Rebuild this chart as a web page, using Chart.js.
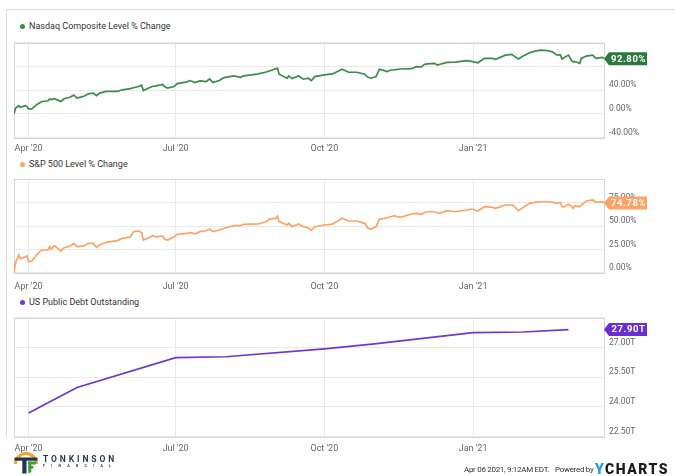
<!DOCTYPE html>
<html><head><meta charset="utf-8">
<script src="https://cdn.jsdelivr.net/npm/chart.js@4.4.1/dist/chart.umd.min.js"></script>
<style>
body{margin:0;width:675px;height:476px;background:#fff;position:relative;overflow:hidden;font-family:Roboto,sans-serif;}
.frame{position:absolute;left:6px;top:9px;width:700px;height:428px;border-top:1px solid #dcdcdc;border-left:1px solid #dcdcdc;}
canvas{position:absolute;left:0;}
.leg{position:absolute;left:29px;font-size:9px;color:#333;white-space:nowrap;line-height:10px;}
.dot{position:absolute;left:20px;width:5px;height:5px;border-radius:50%;}
.foot{position:absolute;top:465px;font-size:8px;line-height:9px;color:#333;white-space:nowrap;letter-spacing:-0.3px;}
.yc{position:absolute;left:595px;top:462px;font-size:14px;line-height:14px;font-weight:900;letter-spacing:1.5px;color:#1b1b1b;white-space:nowrap;}
.yc span{color:#1f9cf0;}
.tk{position:absolute;left:43px;top:454px;font-size:8.5px;font-weight:700;letter-spacing:2.9px;color:#1f3550;white-space:nowrap;}
.fin{position:absolute;left:43px;top:464px;font-size:3.6px;font-weight:700;letter-spacing:6.2px;color:#1f3550;white-space:nowrap;}
</style></head>
<body>
<div class="frame"></div>
<div class="dot" style="top:24px;background:#3b8b4b"></div><div class="leg" style="top:21px">Nasdaq Composite Level % Change</div>
<div class="dot" style="top:162px;background:#ffa264"></div><div class="leg" style="top:159px">S&amp;P 500 Level % Change</div>
<div class="dot" style="top:300px;background:#6d36d5"></div><div class="leg" style="top:297px">US Public Debt Outstanding</div>
<canvas id="c1" width="675" height="160" style="top:0px"></canvas>
<canvas id="c2" width="675" height="145" style="top:150px"></canvas>
<canvas id="c3" width="675" height="180" style="top:290px"></canvas>
<svg style="position:absolute;left:0;top:440px" width="45" height="36">
  <path d="M15.5 24 A10.5 10.5 0 0 1 36.5 24" fill="none" stroke="#f6a524" stroke-width="3"/>
  <rect x="14.5" y="17.5" width="23" height="3.2" fill="#1f3550"/>
  <rect x="22.3" y="19" width="4.2" height="14.5" fill="#1f3550"/>
  <rect x="28.3" y="21.5" width="7.5" height="3" fill="#3b9b3b"/>
  <path d="M28.3 21.5 L31.3 21.5 L31.3 32 L28.3 33.5 Z" fill="#3b9b3b"/>
  <rect x="28.3" y="26" width="5" height="2.6" fill="#3b9b3b"/>
</svg>
<div class="tk">TONKINSON</div>
<div class="fin">FINANCIAL</div>
<div class="foot" style="left:464px">Apr 06 2021, 9:12AM EDT.</div>
<div class="foot" style="left:555px">Powered by</div>
<div class="yc"><span>Y</span>CHARTS</div>
<script>
// ---- data ----
const quarterTicks = ['2020-04-01','2020-07-01','2020-10-01','2021-01-01'];
const quarterLabels = ["Apr '20","Jul '20","Oct '20","Jan '21"];
const xStart = '2020-03-23';
const xEnd = '2021-03-23';

const tradeDates = ['2020-03-23','2020-03-24','2020-03-26','2020-03-27','2020-03-30','2020-03-31','2020-04-01','2020-04-03','2020-04-06','2020-04-09','2020-04-13','2020-04-14','2020-04-15','2020-04-17','2020-04-21','2020-04-23','2020-04-27','2020-04-29','2020-05-01','2020-05-05','2020-05-08','2020-05-11','2020-05-13','2020-05-15','2020-05-19','2020-05-26','2020-05-29','2020-06-03','2020-06-05','2020-06-08','2020-06-10','2020-06-11','2020-06-15','2020-06-17','2020-06-19','2020-06-23','2020-06-24','2020-06-26','2020-06-30','2020-07-02','2020-07-08','2020-07-10','2020-07-13','2020-07-16','2020-07-20','2020-07-22','2020-07-24','2020-07-28','2020-07-31','2020-08-06','2020-08-10','2020-08-12','2020-08-17','2020-08-21','2020-08-26','2020-08-28','2020-09-01','2020-09-02','2020-09-03','2020-09-08','2020-09-09','2020-09-11','2020-09-15','2020-09-18','2020-09-21','2020-09-23','2020-09-25','2020-10-01','2020-10-06','2020-10-12','2020-10-16','2020-10-21','2020-10-26','2020-10-28','2020-10-30','2020-11-02','2020-11-04','2020-11-09','2020-11-11','2020-11-13','2020-11-17','2020-11-24','2020-11-27','2020-11-30','2020-12-02','2020-12-04','2020-12-08','2020-12-10','2020-12-11','2020-12-16','2020-12-21','2020-12-28','2020-12-31','2021-01-04','2021-01-08','2021-01-13','2021-01-15','2021-01-21','2021-01-25','2021-01-26','2021-01-29','2021-02-01','2021-02-05','2021-02-09','2021-02-12','2021-02-16','2021-02-19','2021-02-22','2021-02-24','2021-02-25','2021-02-26','2021-03-01','2021-03-03','2021-03-04','2021-03-05','2021-03-08','2021-03-09','2021-03-12','2021-03-16','2021-03-18','2021-03-22','2021-03-23'];

const nasdaqPct = [0,10,13.8,11,13.8,12.7,8.3,8.3,15.5,20.5,22,25,24,25.5,21,25.5,28.3,31.6,26.6,29.4,33.8,35,30.5,35,37.7,37.7,40.5,42.5,44,46,48.3,39.4,44.4,46.5,47.2,49.4,46,43.3,46,51,53.8,56,52.7,55.5,54.4,58.8,52.7,56,61,63.8,61.6,63.8,65.5,67.2,70.5,72.2,76,76.7,66.7,60,63.8,59.4,63.8,58.3,60,56,62.7,65.5,67.2,75,70,70,66.7,61.6,60,62.7,75,71,73.8,74,75.5,76,79.3,79,83.3,84,85,82.2,83,86.6,87,89.4,88.3,86,93.3,93.3,91.6,98.8,100,98,92.2,97.2,102.7,106,107.2,106.5,104.3,98.8,99.5,92.2,94,98.8,89.4,87.2,88,85,93.3,97.2,98.8,93.3,95,92.8];

const spxPct = [0,11.2,19,14.8,17.2,18,11.9,12.6,19,24.4,24.4,27.9,25.5,29,23.3,26.8,28.7,31.5,27.9,28.7,31.5,31.5,27.3,29.7,32.6,34.4,36.9,38.3,44,44.7,43,35,38,39.7,38.5,39.4,36.1,35,38.6,41.2,42.2,42.9,41.6,44,45,46.8,44,45.8,47.6,50.4,50.4,51.9,52,52.2,54.5,57.5,58.3,60.7,54.7,51.1,52.9,49.3,52.2,49.3,48.2,45.4,49.3,51.1,52,58.3,55.4,55.4,52.9,47.6,46.8,49.3,57.2,58.9,60,61,59.3,62.9,63.5,62.6,64.5,65.3,65.3,64,63.6,66.4,65.3,67.2,68.2,66.1,70.7,70,69,72.5,72.5,72,66.4,70,74.3,75.5,76,76,75.5,74.3,75.2,70.7,70.5,73.3,71,69,71.8,70.5,72.5,76.8,77.9,75.4,76,74.78];

const debtDates = ['2020-04-01','2020-05-01','2020-07-01','2020-08-01','2020-10-01','2020-11-01','2021-01-01','2021-02-01','2021-03-01'];
const debtTrillions = [23.69,24.98,26.49,26.53,26.93,27.18,27.75,27.78,27.90];

const nasdaqTicks = [-40,0,40,80,120];
const nasdaqTickLabels = [-40,0,40];
const spxTicks = [0,25,50,75,100];
const spxTickLabels = [0,25,50,75];
const debtTicks = [22.5,24,25.5,27,28.5];
const debtTickLabels = [22.5,24,25.5,27];

// ---- helpers ----
const base = Date.UTC(2020,3,1);
function dayOf(s){const p=s.split('-').map(Number);return (Date.UTC(p[0],p[1]-1,p[2])-base)/86400000;}

const framePlugin = {
  id:'frameTag',
  beforeDatasetsDraw(chart){
    const a=chart.chartArea, c=chart.ctx;
    c.save(); c.strokeStyle='#d6d6d6'; c.lineWidth=1;
    c.strokeRect(Math.round(a.left)+0.5, Math.round(a.top)+0.5, Math.round(a.right-a.left), Math.round(a.bottom-a.top));
    c.restore();
  },
  afterDraw(chart){
    const o=chart.options.plugins.frameTag; if(!o) return;
    const c=chart.ctx, a=chart.chartArea;
    const y=chart.scales.y.getPixelForValue(o.value);
    const x=a.right;
    c.save();
    c.fillStyle=o.color;
    c.beginPath(); c.moveTo(x,y); c.lineTo(x+5,y-6.5); c.lineTo(x+43,y-6.5); c.lineTo(x+43,y+6.5); c.lineTo(x+5,y+6.5); c.closePath(); c.fill();
    c.fillStyle='#fff'; c.font='bold 9.5px Roboto'; c.textAlign='center'; c.textBaseline='middle';
    try{c.letterSpacing='0.6px';}catch(e){}
    c.fillText(o.text, x+24.5, y+0.5);
    c.restore();
  }
};

function makeChart(id, dates, values, color, tagColor, ticks, labeled, fmt, padTop, xh, xPad, tagText){
  const xTickVals = quarterTicks.map(dayOf);
  return new Chart(document.getElementById(id), {
    type:'line',
    data:{datasets:[{data:dates.map((d,i)=>({x:dayOf(d), y:values[i]})), borderColor:color, borderWidth:1.7, pointRadius:0, tension:0, fill:false}]},
    plugins:[framePlugin],
    options:{
      responsive:false, animation:false, devicePixelRatio:1,
      layout:{padding:{top:padTop,left:14,right:0,bottom:0}},
      plugins:{legend:{display:false}, tooltip:{enabled:false}, frameTag:{value:values[values.length-1], color:tagColor, text:tagText}},
      scales:{
        x:{type:'linear', min:dayOf(xStart), max:dayOf(xEnd),
          afterBuildTicks(s){s.ticks=xTickVals.map(v=>({value:v}));},
          afterFit(s){s.height=xh;},
          grid:{color:'#e9e9e9', drawTicks:false, lineWidth:1}, border:{display:false},
          ticks:{autoSkip:false, maxRotation:0, padding:xPad, color:'#666', font:{family:'Roboto', size:9},
            callback(v){const i=xTickVals.indexOf(v);return i>=0?quarterLabels[i]:'';}}
        },
        y:{type:'linear', position:'right', min:ticks[0], max:ticks[ticks.length-1],
          afterBuildTicks(s){s.ticks=ticks.map(v=>({value:v}));},
          afterFit(s){s.width=71;},
          grid:{color:'#e9e9e9', drawTicks:false, lineWidth:1}, border:{display:false},
          ticks:{padding:5, labelOffset:-5, color:'#666', font:{family:'Roboto', size:8.5},
            callback(v){return labeled.includes(v)?fmt(v):'';}}
        }
      }
    }
  });
}

const pct = v => v.toFixed(2)+'%';
makeChart('c1', tradeDates, nasdaqPct, '#3b8b4b', '#2b7a3b', nasdaqTicks, nasdaqTickLabels, pct, 42.5, 22.3, 6, nasdaqPct[nasdaqPct.length-1].toFixed(2)+'%');
makeChart('c2', tradeDates, spxPct, '#ffa264', '#ffa264', spxTicks, spxTickLabels, pct, 29.3, 22.2, 9, spxPct[spxPct.length-1].toFixed(2)+'%');
makeChart('c3', debtDates, debtTrillions, '#6d36d5', '#6a2ed1', debtTicks, debtTickLabels, v=>v.toFixed(2)+'T', 27.7, 33.3, 7, debtTrillions[debtTrillions.length-1].toFixed(2)+'T');
</script>
</body></html>
